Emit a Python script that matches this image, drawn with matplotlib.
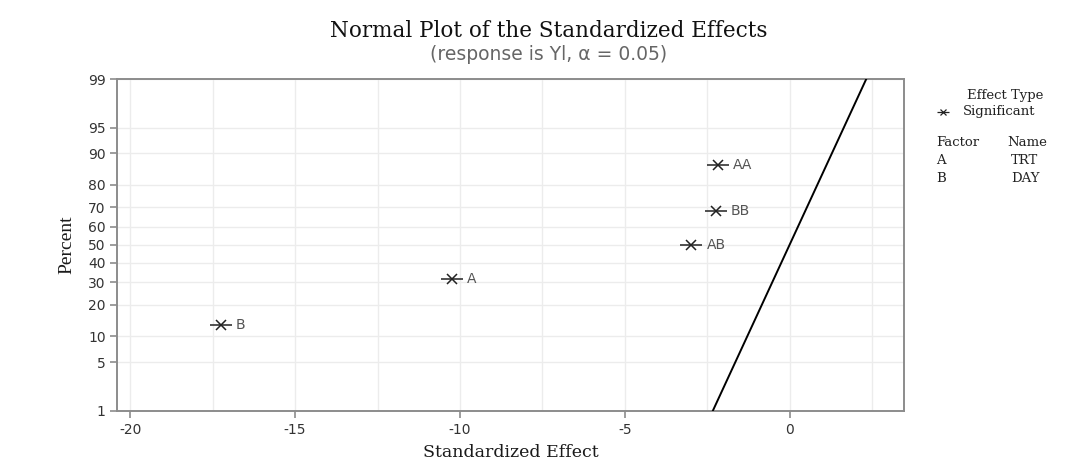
import numpy as np
import matplotlib
matplotlib.use("Agg")
import matplotlib.pyplot as plt
from statistics import NormalDist

# Effects and their normal-plot percentiles
effect_names = ["B", "A", "AB", "BB", "AA"]
effect_values = [-17.26, -10.24, -2.98, -2.24, -2.18]
effect_percent = [13.0, 31.5, 50.0, 68.5, 87.0]

y_ticks = [1, 5, 10, 20, 30, 40, 50, 60, 70, 80, 90, 95, 99]
x_ticks = [-20, -15, -10, -5, 0]

factor_codes = ["A", "B"]
factor_labels = ["TRT", "DAY"]

_nd = NormalDist()
_inv = np.vectorize(lambda v: _nd.inv_cdf(v / 100.0), otypes=[float])
_cdf = np.vectorize(lambda v: _nd.cdf(v) * 100.0, otypes=[float])


def pct_to_z(p):
    p = np.clip(np.asarray(p, dtype=float), 1e-6, 100 - 1e-6)
    return _inv(p)


def z_to_pct(z):
    return _cdf(np.asarray(z, dtype=float))


serif = "DejaVu Serif"
sans = "DejaVu Sans"
tick_col = "#333333"
spine_col = "#8c8c8c"
grid_col = "#ececec"
W, H = 1080, 472

fig = plt.figure(figsize=(10.8, 4.72), dpi=100)
ax = fig.add_axes([0.1081, 0.1299, 0.7292, 0.7027])
ax.set_yscale("function", functions=(pct_to_z, z_to_pct))
ax.set_ylim(1, 99)
ax.set_xlim(-20.41, 3.48)

ax.set_yticks(y_ticks)
ax.set_yticklabels([str(t) for t in y_ticks])
ax.yaxis.set_minor_locator(matplotlib.ticker.NullLocator())
ax.set_xticks(x_ticks)
ax.set_xticklabels([str(t) for t in x_ticks])
ax.set_xticks(np.arange(-20, 3.5, 2.5), minor=True)

ax.grid(True, which="major", color=grid_col, linewidth=1.0)
ax.grid(True, which="minor", axis="x", color=grid_col, linewidth=1.0)
ax.set_axisbelow(True)

for s in ax.spines.values():
    s.set_color(spine_col)
    s.set_linewidth(1.4)
ax.tick_params(which="major", direction="out", length=5, width=1.2,
               color=spine_col, labelcolor=tick_col, labelsize=10)
ax.tick_params(axis="x", pad=4)
ax.tick_params(axis="y", pad=3)
ax.tick_params(which="minor", length=0)
for lab in ax.get_xticklabels() + ax.get_yticklabels():
    lab.set_fontfamily(sans)

# Reference line of the standard normal distribution
p_line = np.linspace(1, 99, 400)
ax.plot(pct_to_z(p_line), p_line, color="black", linewidth=1.4, zorder=3)

# Effect markers: horizontal bar crossed by diagonal arms
ax.plot(effect_values, effect_percent, linestyle="none", marker="_",
        markersize=16, markeredgewidth=1.1, color="#222222", zorder=4)
ax.plot(effect_values, effect_percent, linestyle="none", marker="x",
        markersize=7.5, markeredgewidth=1.1, color="#222222", zorder=4)
for name, xv, pv in zip(effect_names, effect_values, effect_percent):
    ax.annotate(name, (xv, pv), xytext=(11, 0), textcoords="offset points",
                va="center", ha="left", fontsize=10, color="#555555",
                family=sans)

ax.set_xlabel("Standardized Effect", family=serif, fontsize=12.5,
              color="#1a1a1a", labelpad=5)
ax.set_ylabel("Percent", family="Liberation Serif", fontsize=14,
              color="#1a1a1a", labelpad=9)

fig.text(549 / W, 1 - 31 / H, "Normal Plot of the Standardized Effects",
         family=serif, fontsize=15.5, ha="center", va="center",
         color="#111111")
fig.text(549 / W, 1 - 54 / H, "(response is Yl, \u03b1 = 0.05)", family=sans,
         fontsize=13.5, ha="center", va="center", color="#666666")

# Side key
fs_key = 9.5
fig.text(1005 / W, 1 - 95 / H, "Effect Type", family=serif, fontsize=fs_key,
         ha="center", va="center", color="#222222")
fig.lines.append(matplotlib.lines.Line2D([943 / W], [1 - 112 / H],
                 transform=fig.transFigure, marker="_", markersize=9,
                 markeredgewidth=0.9, color="#222222", linestyle="none"))
fig.lines.append(matplotlib.lines.Line2D([943 / W], [1 - 112 / H],
                 transform=fig.transFigure, marker="x", markersize=4.5,
                 markeredgewidth=0.9, color="#222222", linestyle="none"))
fig.text(963 / W, 1 - 112 / H, "Significant", family=serif,
         fontsize=fs_key, ha="left", va="center", color="#222222")
fig.text(936 / W, 1 - 143 / H, "Factor", family=serif, fontsize=fs_key,
         ha="left", va="center", color="#222222")
fig.text(1007 / W, 1 - 143 / H, "Name", family=serif, fontsize=fs_key,
         ha="left", va="center", color="#222222")
for i, (code, lab) in enumerate(zip(factor_codes, factor_labels)):
    yy = 1 - (160 + 18 * i) / H
    fig.text(936 / W, yy, code, family=serif, fontsize=fs_key, ha="left",
             va="center", color="#222222")
    fig.text(1011 / W, yy, lab, family=serif, fontsize=fs_key, ha="left",
             va="center", color="#222222")

fig.savefig("out.png", dpi=100, facecolor="white")
